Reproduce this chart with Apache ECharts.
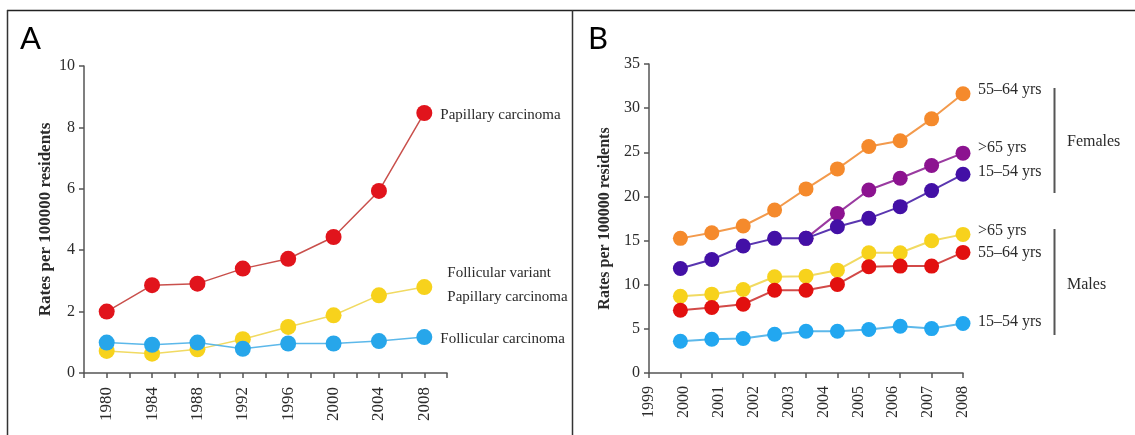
<!DOCTYPE html>
<html>
<head>
<meta charset="utf-8">
<title>Thyroid carcinoma rates</title>
<script src="https://cdn.jsdelivr.net/npm/echarts/dist/echarts.min.js"></script>
<style>
  html, body { margin: 0; padding: 0; background: #fff; }
  #main { width: 1135px; height: 435px; }
</style>
</head>
<body>
<div id="main"></div>
<script>
// panel A: rates by histotype, every 4 years
var yearsA = [1980, 1984, 1988, 1992, 1996, 2000, 2004, 2008];
var papillary = [2.0, 2.86, 2.91, 3.4, 3.72, 4.43, 5.93, 8.47];
var follVariant = [0.72, 0.63, 0.77, 1.1, 1.5, 1.88, 2.53, 2.8];
var follicular = [0.99, 0.92, 0.99, 0.79, 0.96, 0.96, 1.04, 1.17];

// panel B: rates by sex and age group (10 points on the tick axis)
var yearLabelsB = ['1999', '2000', '2001', '2002', '2003', '2004', '2005', '2006', '2007', '2008'];
var fem5564 = [15.25, 15.89, 16.65, 18.46, 20.85, 23.12, 25.65, 26.3, 28.79, 31.63];
var fem65 = [null, null, null, null, 15.25, 18.08, 20.73, 22.06, 23.5, 24.9];
var fem1554 = [11.84, 12.86, 14.38, 15.25, 15.25, 16.57, 17.52, 18.84, 20.66, 22.51];
var male65 = [8.7, 8.93, 9.46, 10.9, 10.97, 11.65, 13.62, 13.62, 14.98, 15.7];
var male5564 = [7.11, 7.42, 7.79, 9.38, 9.38, 10.03, 12.03, 12.11, 12.11, 13.66];
var male1554 = [3.59, 3.82, 3.9, 4.39, 4.73, 4.73, 4.92, 5.3, 5.03, 5.6];

var serif = 'Liberation Serif';
var txt = '#2b2b2b';
var axisCol = '#555';

function pairsA(vals) {
  return vals.map(function (v, i) { return [yearsA[i], v]; });
}
function pairsB(vals) {
  return vals.map(function (v, i) { return [i + 1, v]; });
}

function lineA(name, data, dot, line, label, lbl) {
  return {
    name: name, type: 'line', xAxisIndex: 0, yAxisIndex: 0,
    data: pairsA(data), symbol: 'circle', symbolSize: 16,
    itemStyle: { color: dot }, lineStyle: { color: line, width: 1.5 },
    endLabel: Object.assign({
      show: true, formatter: label, color: txt, fontFamily: serif,
      fontSize: 15, distance: 16
    }, lbl || {})
  };
}
function lineB(name, data, dot, line, label, lbl, z) {
  return {
    name: name, type: 'line', xAxisIndex: 1, yAxisIndex: 1,
    data: pairsB(data), symbol: 'circle', symbolSize: 15, z: z || 2,
    itemStyle: { color: dot }, lineStyle: { color: line, width: 2 },
    endLabel: Object.assign({
      show: true, formatter: label, color: txt, fontFamily: serif,
      fontSize: 16, distance: 15, offset: [0, -3]
    }, lbl || {})
  };
}

var chart = echarts.init(document.getElementById('main'));

var valueAxisCommon = {
  axisLine: { show: true, lineStyle: { color: axisCol, width: 1.5 } },
  axisTick: { show: true, length: 5, lineStyle: { color: axisCol, width: 1.5 } },
  splitLine: { show: false }
};

chart.setOption({
  animation: false,
  backgroundColor: '#fff',
  grid: [
    { left: 84, top: 66, width: 363, bottom: 62 },
    { left: 649, top: 64, width: 314, bottom: 62 }
  ],
  xAxis: [
    Object.assign({}, valueAxisCommon, {
      type: 'value', gridIndex: 0, min: 1978, max: 2010, interval: 2,
      axisLabel: {
        rotate: 90, margin: 14, fontFamily: serif, fontSize: 17, color: txt,
        formatter: function (v) { return yearsA.indexOf(v) >= 0 ? String(v) : ''; }
      }
    }),
    Object.assign({}, valueAxisCommon, {
      type: 'value', gridIndex: 1, min: 0, max: 10, interval: 1,
      axisLabel: { show: false }
    }),
    {
      type: 'value', gridIndex: 1, position: 'bottom', min: 0, max: 9, interval: 1,
      axisLine: { show: false }, axisTick: { show: false }, splitLine: { show: false },
      axisLabel: {
        rotate: 90, margin: 13, fontFamily: serif, fontSize: 16, color: txt,
        formatter: function (v) { return yearLabelsB[v] || ''; }
      }
    }
  ],
  yAxis: [
    Object.assign({}, valueAxisCommon, {
      type: 'value', gridIndex: 0, min: 0, max: 10, interval: 2,
      name: 'Rates per 100000 residents', nameLocation: 'middle', nameGap: 30,
      nameTextStyle: { fontFamily: serif, fontSize: 17, fontWeight: 'bold', color: txt },
      axisLabel: { margin: 9, fontFamily: serif, fontSize: 16, color: txt }
    }),
    Object.assign({}, valueAxisCommon, {
      type: 'value', gridIndex: 1, min: 0, max: 35, interval: 5,
      name: 'Rates per 100000 residents', nameLocation: 'middle', nameGap: 36,
      nameTextStyle: { fontFamily: serif, fontSize: 16, fontWeight: 'bold', color: txt },
      axisLabel: { margin: 9, fontFamily: serif, fontSize: 16, color: txt }
    })
  ],
  series: [
    lineA('Papillary carcinoma', papillary, '#e1141c', '#c9504c', 'Papillary carcinoma', { offset: [0, 2] }),
    lineA('Follicular variant Papillary carcinoma', follVariant, '#f7d21c', '#f1da62',
      'Follicular variant\nPapillary carcinoma', { distance: 23, lineHeight: 24, offset: [0, -2] }),
    lineA('Follicular carcinoma', follicular, '#27a6ea', '#5cb8ea', 'Follicular carcinoma', { offset: [0, 2] }),

    lineB('Females 55-64', fem5564, '#f58a2c', '#f39a4c', '55\u201364 yrs', { offset: [0, -4] }),
    lineB('Females >65', fem65, '#8c1390', '#9a3aa0', '>65 yrs', { offset: [0, -5] }, 1),
    lineB('Females 15-54', fem1554, '#4310a6', '#5a36b0', '15\u201354 yrs', { offset: [0, -2] }, 3),
    lineB('Males >65', male65, '#f7d21c', '#f1da62', '>65 yrs', { offset: [0, -4] }),
    lineB('Males 55-64', male5564, '#e2100f', '#d24a48', '55\u201364 yrs', { offset: [0, 0] }),
    lineB('Males 15-54', male1554, '#22a7f0', '#5cb8ea', '15\u201354 yrs', { offset: [0, -2] })
  ],
  graphic: [
    // frame
    { type: 'line', shape: { x1: 7, y1: 10.5, x2: 1135, y2: 10.5 }, style: { stroke: '#222', lineWidth: 1.5 } },
    { type: 'line', shape: { x1: 7.5, y1: 10, x2: 7.5, y2: 435 }, style: { stroke: '#333', lineWidth: 1.5 } },
    { type: 'line', shape: { x1: 572.5, y1: 10, x2: 572.5, y2: 435 }, style: { stroke: '#333', lineWidth: 1.5 } },
    // panel letters
    { type: 'text', left: 20, top: 23, style: { text: 'A', font: '31px Lato', fill: '#000' } },
    { type: 'text', left: 588, top: 23, style: { text: 'B', font: '31px Lato', fill: '#000' } },
    // sex brackets
    { type: 'line', shape: { x1: 1054.5, y1: 88, x2: 1054.5, y2: 193 }, style: { stroke: '#555', lineWidth: 2 } },
    { type: 'line', shape: { x1: 1054.5, y1: 229, x2: 1054.5, y2: 335 }, style: { stroke: '#555', lineWidth: 2 } },
    { type: 'text', left: 1067, top: 134, style: { text: 'Females', font: '16px "Liberation Serif"', fill: txt } },
    { type: 'text', left: 1067, top: 277, style: { text: 'Males', font: '16px "Liberation Serif"', fill: txt } }
  ]
});
</script>
</body>
</html>
